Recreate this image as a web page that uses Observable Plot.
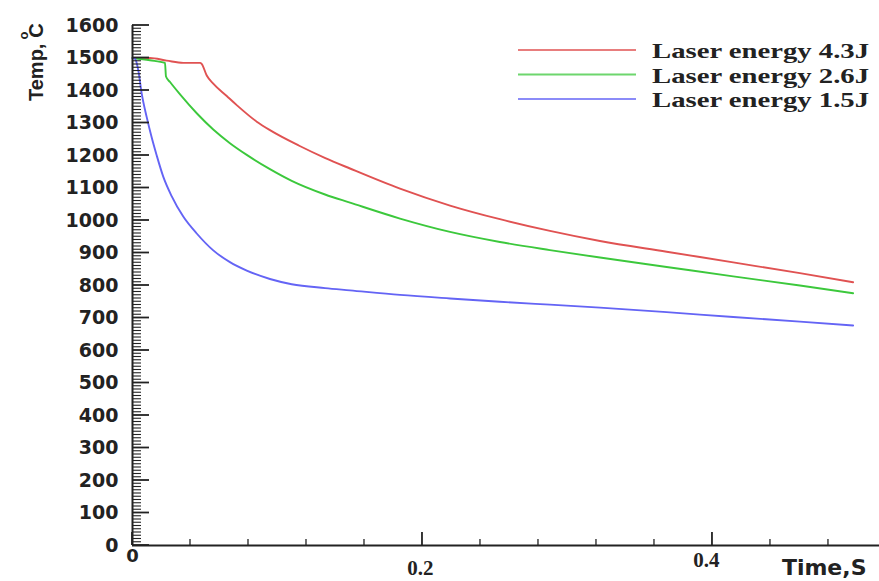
<!DOCTYPE html>
<html><head><meta charset="utf-8">
<script src="https://cdn.jsdelivr.net/npm/d3@7"></script>
<script src="https://cdn.jsdelivr.net/npm/@observablehq/plot@0.6"></script>
<style>body{margin:0;background:#fff}#chart{width:879px;height:581px}</style>
</head><body><div id="chart"></div>
<script>
// ---- data ----
const seriesNames = ["Laser energy 4.3J", "Laser energy 2.6J", "Laser energy 1.5J"];
const seriesColors = ["#e05252", "#3cc83c", "#6464f5"];

const time43 = [0, 0.012, 0.0236, 0.035, 0.0466, 0.0477, 0.0512, 0.0557, 0.065, 0.0719, 0.0857, 0.0948, 0.115, 0.133, 0.15, 0.1845, 0.219, 0.2534, 0.2879, 0.3224, 0.3684, 0.4143, 0.4603, 0.497];
const temp43 = [1500, 1500, 1492, 1485, 1485, 1482, 1446, 1421, 1383, 1355, 1304, 1278, 1230, 1192, 1160, 1098, 1046, 1004, 968, 937, 904, 871, 838, 810];

const time26 = [0, 0.012, 0.0224, 0.0231, 0.0259, 0.0328, 0.0443, 0.0557, 0.0672, 0.0788, 0.0948, 0.1098, 0.1328, 0.15, 0.1845, 0.219, 0.2534, 0.2879, 0.3224, 0.3684, 0.4143, 0.4603, 0.497];
const temp26 = [1500, 1493, 1485, 1443, 1426, 1388, 1330, 1280, 1238, 1202, 1158, 1122, 1080, 1055, 1006, 965, 934, 909, 886, 857, 828, 800, 776];

const time15 = [0, 0.0017, 0.004, 0.0063, 0.0098, 0.0132, 0.0167, 0.0212, 0.027, 0.035, 0.0443, 0.0557, 0.0672, 0.0788, 0.0948, 0.1098, 0.1328, 0.15, 0.1845, 0.219, 0.2534, 0.2879, 0.3224, 0.3684, 0.4143, 0.4603, 0.497];
const temp15 = [1500, 1498, 1462, 1392, 1318, 1256, 1200, 1135, 1075, 1012, 960, 908, 872, 846, 820, 804, 792, 785, 771, 760, 750, 741, 732, 718, 703, 689, 677];

const yTickLabels = [0, 100, 200, 300, 400, 500, 600, 700, 800, 900, 1000, 1100, 1200, 1300, 1400, 1500, 1600];
const yMinorTicks = d3.range(0, 1600, 10).filter(v => v % 100 !== 0);
const xMajorTicks = [0, 0.2, 0.4];
const xMinorTicks = [0.04, 0.08, 0.12, 0.16, 0.24, 0.28, 0.32, 0.36, 0.44, 0.48];
const xTitle = "Time,S";

// ---- table built from the arrays ----
const seriesTimes = [time43, time26, time15];
const seriesTemps = [temp43, temp26, temp15];
const rows = seriesNames.flatMap((name, i) => seriesTimes[i].map((t, j) => ({series: name, t, temp: seriesTemps[i][j]})));

const ink = "#222";
const W = 879, H = 581, ML = 132, MT = 25, MB = 36, XMAX = 0.5152, YMAX = 1600;

const plot = Plot.plot({
  width: W, height: H,
  marginLeft: ML, marginRight: 0, marginTop: MT, marginBottom: MB,
  x: {domain: [0, XMAX], axis: null, label: null},
  y: {domain: [0, YMAX], axis: null, label: null},
  color: {domain: seriesNames, range: seriesColors},
  style: {fontFamily: "DejaVu Sans", color: ink, background: "#fff"},
  marks: [
    Plot.axisY(yTickLabels, {tickSize: 0, tickPadding: 14, fontSize: 19, fontWeight: "bold", fill: ink, label: null, tickFormat: d => String(d)}),
    Plot.axisX([xMajorTicks[0]], {anchor: "bottom", tickSize: 0, tickPadding: 4, fontSize: 18, fontWeight: "bold", fill: ink, label: null, tickFormat: d => String(d)}),
    Plot.axisX([xMajorTicks[1]], {anchor: "bottom", tickSize: 0, tickPadding: 4, dy: 11, dx: -2, fontSize: 21, fontWeight: "bold", fontFamily: "Liberation Serif", fill: ink, label: null, tickFormat: d => String(d)}),
    Plot.axisX([xMajorTicks[2]], {anchor: "bottom", tickSize: 0, tickPadding: 4, dy: 3, dx: -6, fontSize: 21, fontWeight: "bold", fontFamily: "Liberation Serif", fill: ink, label: null, tickFormat: d => String(d)}),
    Plot.text([xTitle], {frameAnchor: "bottom-right", text: d => d, dx: -13, dy: 22, textAnchor: "end", lineAnchor: "middle", fontSize: 22, fontWeight: "bold", fill: ink}),
    Plot.line(rows, {x: "t", y: "temp", z: "series", stroke: "series", strokeWidth: 1.9, curve: "monotone-x"}),
    Plot.ruleX([0], {stroke: ink, strokeWidth: 2}),
    Plot.ruleY([0], {stroke: ink, strokeWidth: 2})
  ]
});
document.getElementById("chart").appendChild(plot);

const svg = d3.select(plot);
// ---- inward ticks, positioned with the plot's own scales ----
const xs = plot.scale("x"), ys = plot.scale("y");
const x0 = xs.apply(0), y0 = ys.apply(0);
const tg = svg.append("g").attr("stroke", ink);
yMinorTicks.forEach(v => tg.append("line").attr("x1", x0).attr("x2", x0 + 9).attr("y1", ys.apply(v)).attr("y2", ys.apply(v)).attr("stroke-width", 1.1));
yTickLabels.forEach(v => tg.append("line").attr("x1", x0).attr("x2", x0 + 17).attr("y1", ys.apply(v)).attr("y2", ys.apply(v)).attr("stroke-width", 1.8));
xMinorTicks.forEach(v => tg.append("line").attr("x1", xs.apply(v)).attr("x2", xs.apply(v)).attr("y1", y0).attr("y2", y0 - 6).attr("stroke-width", 1.3));
xMajorTicks.forEach(v => tg.append("line").attr("x1", xs.apply(v)).attr("x2", xs.apply(v)).attr("y1", y0).attr("y2", y0 - 13).attr("stroke-width", 1.8));

// ---- y title and legend ----
const yl = svg.append("text")
  .attr("transform", "translate(43,101) rotate(-90)")
  .attr("text-anchor", "start")
  .attr("font-family", "Liberation Sans").attr("font-weight", "bold")
  .attr("font-size", 20).attr("fill", ink);
yl.append("tspan").text("Temp,");
yl.append("tspan").attr("dx", 4).attr("dy", -15).attr("font-size", 13).text("o");
yl.append("tspan").attr("dx", -6).attr("dy", 15).text("C");

const leg = svg.append("g");
seriesNames.forEach((name, i) => {
  const y = 50 + 24.5 * i;
  leg.append("line").attr("x1", 518).attr("x2", 636).attr("y1", y).attr("y2", y)
    .attr("stroke", seriesColors[i]).attr("stroke-width", 2).attr("stroke-opacity", 0.75);
  leg.append("text").attr("x", 652).attr("y", y + 8)
    .attr("text-anchor", "start")
    .attr("font-family", "Liberation Serif").attr("font-weight", "bold").attr("font-size", 22)
    .attr("fill", ink).attr("textLength", 217).attr("lengthAdjust", "spacingAndGlyphs")
    .text(name);
});
</script>
</body></html>
